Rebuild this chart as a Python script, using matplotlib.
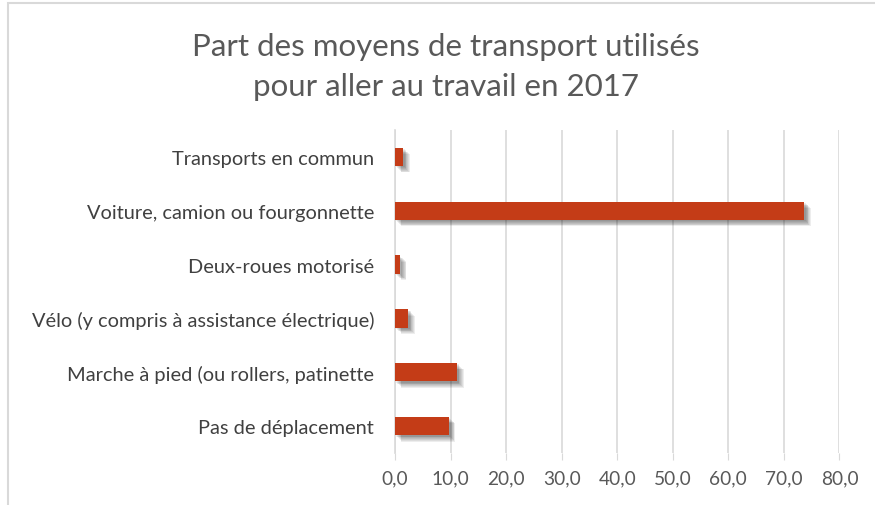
import matplotlib.pyplot as plt
import matplotlib.patheffects as pe
from matplotlib.patches import Rectangle

plt.rcParams['font.family'] = ['Lato', 'DejaVu Sans']

categories = ["Transports en commun",
              "Voiture, camion ou fourgonnette",
              "Deux-roues motorisé",
              "Vélo (y compris à assistance électrique)",
              "Marche à pied (ou rollers, patinette",
              "Pas de déplacement"]
values = [1.5, 73.7, 0.9, 2.4, 11.2, 9.7]
xticks = [0, 10, 20, 30, 40, 50, 60, 70, 80]
xticklabels = ["0,0", "10,0", "20,0", "30,0", "40,0", "50,0", "60,0", "70,0", "80,0"]

fig = plt.figure(figsize=(8.75, 5.06), dpi=100)
# chart border
fig.patches.append(Rectangle((8 / 875, -0.05), 1.0, 1 - 4 / 506 + 0.05, transform=fig.transFigure,
                             fill=False, edgecolor="#D9D9D9", linewidth=1.5))

ax = fig.add_axes([0.4514, 0.1028, 0.5080, 0.6383])

# soft shadow made from stacked offset copies
shadow = [pe.SimplePatchShadow(offset=(d, -d), shadow_rgbFace="black", alpha=0.07)
          for d in (1.0, 1.6, 2.2, 2.8, 3.4, 4.0, 4.6)]
bars = ax.barh(range(len(categories)), values, height=0.34, color="#C43C17", zorder=3)
for b in bars:
    b.set_path_effects(shadow + [pe.Normal()])

ax.set_ylim(len(categories) - 0.5, -0.5)
ax.set_xlim(0, 80)
ax.set_yticks(range(len(categories)))
ax.set_yticklabels(categories, fontsize=14.4, color="#404040")
ax.set_xticks(xticks)
ax.set_xticklabels(xticklabels, fontsize=13.8, color="#595959")
ax.tick_params(axis="y", length=0, pad=15)
ax.tick_params(axis="x", length=5, color="#D9D9D9", pad=7)
ax.grid(axis="x", color="#D9D9D9", linewidth=1.2, zorder=0)
for s in ["top", "right", "bottom"]:
    ax.spines[s].set_visible(False)
ax.spines["left"].set_color("#D9D9D9")
ax.spines["left"].set_linewidth(1.2)

fig.text(446 / 875, 1 - 67 / 506, "Part des moyens de transport utilisés\npour aller au travail en 2017",
         ha="center", va="center", fontsize=22.5, color="#595959", linespacing=1.5)

fig.savefig("out.png", dpi=100)
